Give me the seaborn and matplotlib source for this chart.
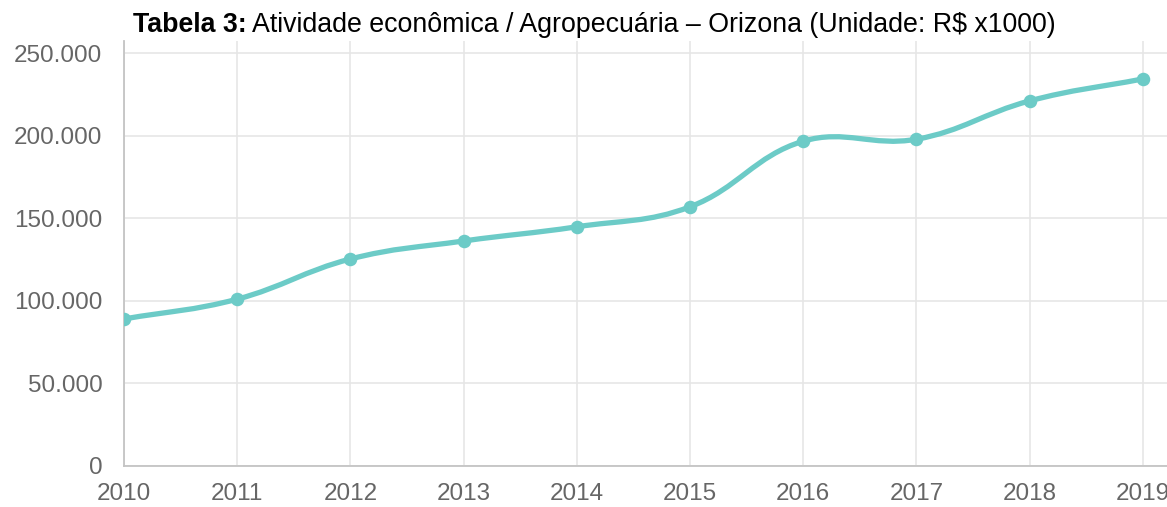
import numpy as np
import pandas as pd
import matplotlib
matplotlib.use("Agg")
from matplotlib import pyplot as plt
from matplotlib.path import Path
from matplotlib.patches import PathPatch
import seaborn as sns

# Tabela 3: Atividade econômica / Agropecuária - Orizona (R$ x1000)
anos = [2010, 2011, 2012, 2013, 2014, 2015, 2016, 2017, 2018, 2019]
valores = [89000, 101000, 125300, 136200, 144800, 156900, 196600, 197800, 221000, 234300]
y_ticks = [0, 50000, 100000, 150000, 200000, 250000]
y_labels = ["0", "50.000", "100.000", "150.000", "200.000", "250.000"]

cor = "#6ccbc7"
grid = "#e6e6e6"

df = pd.DataFrame({"Ano": anos, "Valor": valores})

sns.set_style("white")
plt.rcParams["font.family"] = ["Liberation Sans", "DejaVu Sans"]

fig = plt.figure(figsize=(11.67, 5.07), dpi=100)
ax = fig.add_axes([124 / 1167, 41 / 507, 1043 / 1167, 425 / 507])
ax.set_xlim(2010, 2010 + 1043 / 113.2)
ax.set_ylim(0, 250000 * 425 / 413)

ax.set_xticks(anos)
ax.set_xticklabels([str(a) for a in anos])
ax.set_yticks(y_ticks)
ax.set_yticklabels(y_labels)
ax.grid(True, color=grid, linewidth=1.2)
ax.tick_params(axis="both", length=7, width=1.2, color=grid, labelcolor="#666666",
               labelsize=17.5)
ax.tick_params(axis="y", pad=8.5)
ax.tick_params(axis="x", pad=5)
for s in ["top", "right"]:
    ax.spines[s].set_visible(False)
for s in ["left", "bottom"]:
    ax.spines[s].set_color("#c4c4c4")
    ax.spines[s].set_linewidth(1.3)

# curva suavizada como no Chart.js (tension 0.4)
pts = ax.transData.transform(np.column_stack([anos, valores]).astype(float))
t = 0.4
n = len(pts)
cp_prev, cp_next = [], []
for i in range(n):
    cur = pts[i]
    prev = pts[i - 1] if i > 0 else cur
    nxt = pts[i + 1] if i < n - 1 else cur
    d01 = np.hypot(*(cur - prev))
    d12 = np.hypot(*(nxt - cur))
    s01 = d01 / (d01 + d12)
    s12 = d12 / (d01 + d12)
    cp_prev.append(cur - t * s01 * (nxt - prev))
    cp_next.append(cur + t * s12 * (nxt - prev))
verts = [pts[0]]
codes = [Path.MOVETO]
for i in range(n - 1):
    verts += [cp_next[i], cp_prev[i + 1], pts[i + 1]]
    codes += [Path.CURVE4] * 3
verts = ax.transData.inverted().transform(np.array(verts))
ax.add_patch(PathPatch(Path(verts, codes), facecolor="none", edgecolor=cor,
                       linewidth=3.8, capstyle="round", joinstyle="round", zorder=3))

sns.scatterplot(data=df, x="Ano", y="Valor", ax=ax, color=cor, s=95,
                edgecolor=cor, linewidth=0, zorder=4)
ax.set_xlabel("")
ax.set_ylabel("")

tb = fig.text(133 / 1167, 1 - 32 / 507, "Tabela 3:", fontsize=19.3, fontweight="bold",
              color="black", ha="left", va="baseline")
ax.annotate("Atividade econômica / Agropecuária – Orizona (Unidade: R$ x1000)",
            xy=(1, 0), xycoords=tb, xytext=(4, 0), textcoords="offset points",
            fontsize=19.3, color="black", ha="left", va="bottom", annotation_clip=False)

fig.savefig("out.png", dpi=100)
